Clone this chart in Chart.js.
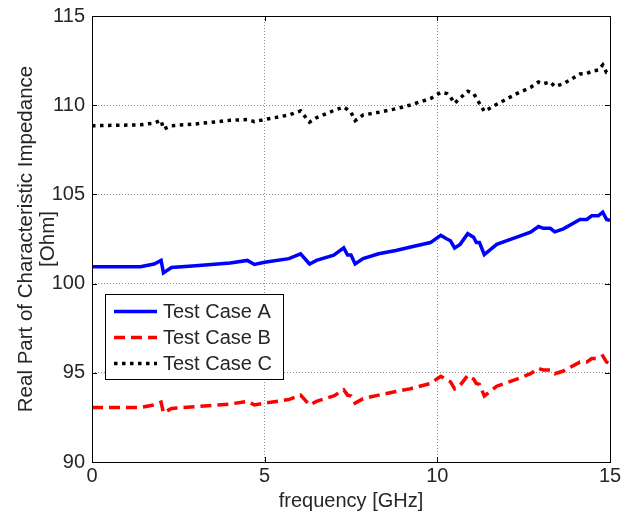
<!DOCTYPE html>
<html>
<head>
<meta charset="utf-8">
<script src="https://cdn.jsdelivr.net/npm/chart.js@4.4.1/dist/chart.umd.min.js"></script>
<style>
  html, body { margin: 0; padding: 0; background: #fff; }
  #wrap { width: 625px; height: 518px; position: relative; }
</style>
</head>
<body>
<div id="wrap"><canvas id="grafic"></canvas></div>
<script>
// frecuencias (GHz) comunes a las tres curvas
const frequencia = [0, 1.4, 1.8, 2.0, 2.07, 2.3, 3.0, 4.0, 4.5, 4.7, 5.0, 5.7, 6.04, 6.3, 6.5, 7.0, 7.29, 7.4, 7.5, 7.62,
  7.85, 8.3, 8.8, 9.2, 9.8, 10.1, 10.28, 10.38, 10.5, 10.66, 10.88, 11.05, 11.13, 11.22, 11.36, 11.72, 12.3, 12.7, 12.93,
  13.07, 13.27, 13.4, 13.65, 14.13, 14.33, 14.47, 14.66, 14.79, 14.9, 15];

const casA = [100.95, 100.95, 101.1, 101.3, 100.6, 100.9, 101.0, 101.15, 101.3, 101.07, 101.2, 101.4, 101.67, 101.1, 101.3,
  101.6, 102.0, 101.6, 101.6, 101.1, 101.4, 101.67, 101.86, 102.04, 102.3, 102.7, 102.5, 102.4, 102.0, 102.2, 102.8, 102.6,
  102.3, 102.3, 101.63, 102.2, 102.6, 102.88, 103.2, 103.1, 103.1, 102.9, 103.07, 103.6, 103.6, 103.8, 103.8, 104.0, 103.6, 103.55];

const casB = [93.05, 93.05, 93.2, 93.35, 92.75, 93.0, 93.1, 93.25, 93.4, 93.2, 93.3, 93.5, 93.75, 93.2, 93.4,
  93.7, 94.05, 93.75, 93.7, 93.3, 93.55, 93.75, 93.95, 94.1, 94.4, 94.8, 94.6, 94.5, 94.1, 94.3, 94.85, 94.65,
  94.4, 94.35, 93.7, 94.25, 94.65, 94.95, 95.25, 95.15, 95.15, 94.95, 95.1, 95.6, 95.6, 95.8, 95.8, 95.95, 95.6, 95.55];

const casC = [108.85, 108.9, 109.0, 109.16, 108.66, 108.85, 108.95, 109.15, 109.2, 109.08, 109.2, 109.45, 109.68, 109.05, 109.3,
  109.7, 109.9, 109.75, 109.6, 109.13, 109.45, 109.6, 109.8, 110.0, 110.37, 110.72, 110.65, 110.46, 110.1, 110.4, 110.78, 110.65,
  110.4, 110.1, 109.65, 110.05, 110.65, 111.0, 111.3, 111.2, 111.3, 111.05, 111.2, 111.75, 111.78, 111.9, 111.97, 112.26, 111.83, 111.8];

const etiquetes = ['Test Case A', 'Test Case B', 'Test Case C'];
const ticksX = [0, 5, 10, 15];
const ticksY = [90, 95, 100, 105, 110, 115];

const FONT = "Arial, 'Liberation Sans', sans-serif";
const TEXT = '#262626';

function punts(valors) {
  return frequencia.map((f, i) => ({ x: f, y: valors[i] }));
}

// marco, ticks hacia dentro y leyenda estilo MATLAB
const marcMatlab = {
  id: 'marcMatlab',
  afterDatasetsDraw(chart) {
    const { ctx, chartArea: a, scales } = chart;
    ctx.save();
    ctx.strokeStyle = '#000';
    ctx.lineWidth = 1;
    ctx.setLineDash([]);
    ctx.beginPath();
    ticksX.forEach(v => {
      const px = Math.round(scales.x.getPixelForValue(v)) + 0.5;
      ctx.moveTo(px, a.bottom); ctx.lineTo(px, a.bottom - 5);
      ctx.moveTo(px, a.top); ctx.lineTo(px, a.top + 5);
    });
    ticksY.forEach(v => {
      const py = Math.round(scales.y.getPixelForValue(v)) + 0.5;
      ctx.moveTo(a.left, py); ctx.lineTo(a.left + 5, py);
      ctx.moveTo(a.right, py); ctx.lineTo(a.right - 5, py);
    });
    ctx.stroke();
    ctx.strokeRect(Math.round(a.left) + 0.5, Math.round(a.top) + 0.5, Math.round(a.right - a.left), Math.round(a.bottom - a.top));

    // leyenda
    const caixa = { x: 105, y: 294, w: 178, h: 85 };
    ctx.fillStyle = '#fff';
    ctx.fillRect(caixa.x, caixa.y, caixa.w, caixa.h);
    ctx.strokeRect(caixa.x + 0.5, caixa.y + 0.5, caixa.w, caixa.h);
    ctx.font = '20px ' + FONT;
    ctx.textBaseline = 'middle';
    chart.data.datasets.forEach((ds, i) => {
      const y = 311.5 + i * 26;
      ctx.strokeStyle = ds.borderColor;
      ctx.lineWidth = ds.borderWidth;
      ctx.setLineDash(ds.borderDash || []);
      ctx.lineCap = 'butt';
      ctx.beginPath();
      ctx.moveTo(114, y); ctx.lineTo(157, y);
      ctx.stroke();
      ctx.fillStyle = TEXT;
      ctx.fillText(ds.label, 163, y + 1);
    });
    ctx.restore();
  }
};

const ctx = document.getElementById('grafic').getContext('2d');
new Chart(ctx, {
  type: 'line',
  data: {
    datasets: [
      { label: etiquetes[0], data: punts(casA), borderColor: '#0000ff', borderWidth: 3.5 },
      { label: etiquetes[1], data: punts(casB), borderColor: '#ff0000', borderWidth: 3.5, borderDash: [11, 6] },
      { label: etiquetes[2], data: punts(casC), borderColor: '#000000', borderWidth: 3.5, borderDash: [3.5, 4.5] }
    ]
  },
  options: {
    responsive: true,
    maintainAspectRatio: false,
    animation: false,
    devicePixelRatio: 1,
    layout: { padding: { left: 0, top: 16, right: 15, bottom: 0 } },
    elements: { point: { radius: 0 }, line: { tension: 0 } },
    plugins: { legend: { display: false }, tooltip: { enabled: false } },
    scales: {
      x: {
        type: 'linear', min: 0, max: 15,
        afterBuildTicks: s => { s.ticks = ticksX.map(v => ({ value: v })); },
        afterFit: s => { s.height = 56; s.paddingLeft = 0; s.paddingRight = 0; },
        grid: { color: '#8c8c8c', drawTicks: false },
        border: { display: false, dash: [1, 2] },
        ticks: { padding: 2, color: TEXT, font: { size: 20, family: FONT }, maxRotation: 0 },
        title: { display: true, text: 'frequency [GHz]', color: TEXT, font: { size: 20, family: FONT }, padding: { top: 0, bottom: 5 } }
      },
      y: {
        type: 'linear', min: 90, max: 115,
        afterBuildTicks: s => { s.ticks = ticksY.map(v => ({ value: v })); },
        afterFit: s => { s.width = 92; s.paddingTop = 0; s.paddingBottom = 0; },
        grid: { color: '#8c8c8c', drawTicks: false },
        border: { display: false, dash: [1, 2] },
        ticks: { padding: 7, color: TEXT, font: { size: 20, family: FONT } },
        title: {
          display: true, text: ['Real Part of Characteristic Impedance', '[Ohm]'],
          color: TEXT, font: { size: 20.5, family: FONT, lineHeight: 1.1 }, padding: { top: 15, bottom: 0 }
        }
      }
    }
  },
  plugins: [marcMatlab]
});
</script>
</body>
</html>
